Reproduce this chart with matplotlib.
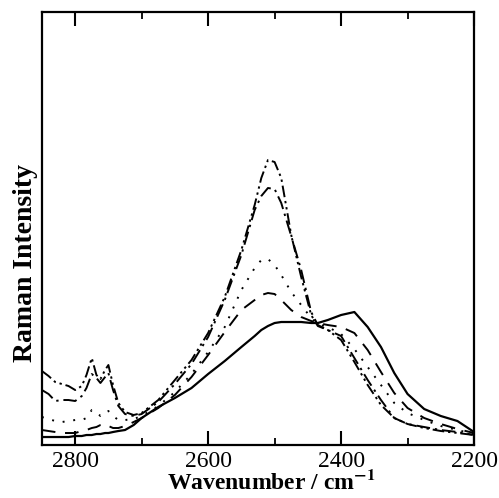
import numpy as np
import matplotlib
matplotlib.use('Agg')
import matplotlib.pyplot as plt
from matplotlib.ticker import MultipleLocator

plt.rcParams['font.family'] = ['Liberation Serif', 'DejaVu Serif']
plt.rcParams['mathtext.fontset'] = 'stix'

# wavenumber grid (cm-1)
wn = [2850, 2840, 2830, 2820, 2810, 2800, 2790, 2783, 2775, 2768, 2762, 2755,
      2750, 2743, 2735, 2725, 2712, 2700, 2675, 2650, 2625, 2600, 2575, 2550,
      2530, 2520, 2510, 2500, 2490, 2475, 2460, 2445, 2435, 2420, 2400, 2380,
      2360, 2340, 2320, 2300, 2275, 2250, 2225, 2200]

# intensities (arb. units)
solid = [3, 3, 3, 3, 3, 4, 4, 5, 5, 6, 6, 7,
         7, 8, 9, 10, 15, 22, 33, 42, 52, 66, 79, 93,
         104, 110, 114, 117, 118, 118, 118, 117, 117, 120, 125, 128,
         113, 93, 67, 46, 31, 24, 19, 8]
dashed = [10, 9, 8, 7, 7, 7, 9, 10, 12, 13, 15, 16,
          14, 12, 12, 14, 18, 22, 32, 45, 63, 85, 108, 130,
          140, 145, 147, 146, 140, 130, 123, 119, 117, 115, 113, 107,
          90, 68, 47, 32, 22, 16, 11, 7]
dotted = [23, 21, 19, 18, 19, 20, 20, 22, 30, 28, 24, 28,
          29, 24, 20, 20, 21, 24, 34, 48, 66, 88, 113, 150,
          172, 180, 181, 175, 165, 148, 135, 122, 116, 113, 106, 91,
          73, 55, 37, 27, 20, 14, 10, 6]
dashdot = [50, 46, 39, 40, 40, 39, 44, 52, 66, 62, 57, 63,
           67, 50, 34, 26, 24, 26, 38, 56, 76, 103, 140, 185,
           230, 244, 252, 251, 237, 204, 170, 128, 115, 110, 104, 82,
           60, 40, 22, 16, 13, 10, 8, 5]
dashdotdot = [69, 64, 58, 56, 54, 50, 54, 65, 82, 65, 61, 70,
              75, 55, 37, 28, 25, 27, 40, 60, 80, 107, 143, 190,
              235, 262, 280, 278, 262, 205, 163, 125, 114, 110, 100, 78,
              55, 35, 22, 16, 12, 9, 7, 5]

fig = plt.figure(figsize=(4.99, 4.98), dpi=100)
ax = fig.add_axes([0.084, 0.1064, 0.866, 0.8695])

lw = 1.4
ax.plot(wn, solid, color='black', lw=1.6, linestyle='-')
ax.plot(wn, dashed, color='black', lw=lw, linestyle=(0, (7, 5)))
ax.plot(wn, dotted, color='black', lw=lw, linestyle=(0, (1, 4.5)))
ax.plot(wn, dashdot, color='black', lw=lw, linestyle=(0, (7, 2.5, 1.2, 2.5)))
ax.plot(wn, dashdotdot, color='black', lw=lw,
        linestyle=(0, (6, 2, 1.2, 2, 1.2, 2)))

ax.set_xlim(2850, 2200)
ax.set_ylim(-5, 428)
ax.xaxis.set_major_locator(MultipleLocator(200))
ax.xaxis.set_minor_locator(MultipleLocator(100))
ax.tick_params(axis='x', which='major', direction='in', length=10, width=1.5,
               top=True, labelsize=17, pad=4)
ax.tick_params(axis='x', which='minor', direction='in', length=5, width=1.3,
               top=True)
ax.set_yticks([])
for s in ax.spines.values():
    s.set_linewidth(1.6)

ax.set_xlabel(r'Wavenumber / cm$^{\mathbf{-1}}$', fontsize=17,
              fontweight='bold', labelpad=0)
ax.xaxis.set_label_coords(0.53, -0.058)
ax.set_ylabel('Raman Intensity', fontsize=20, fontweight='bold')
ax.yaxis.set_label_coords(-0.008, 0.42)

fig.savefig('out.png', dpi=100)
